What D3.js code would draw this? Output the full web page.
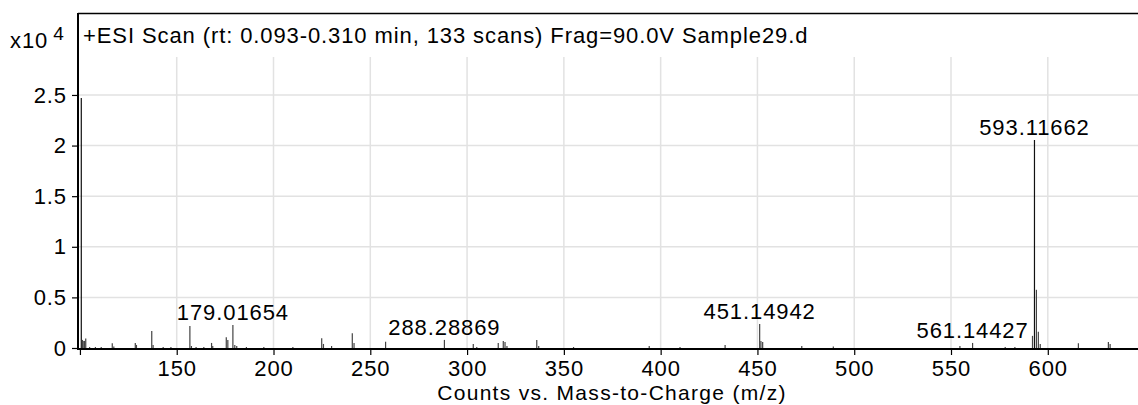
<!DOCTYPE html>
<html>
<head>
<meta charset="utf-8">
<script src="https://cdn.jsdelivr.net/npm/d3@7"></script>
<style>
  html, body { margin: 0; padding: 0; background: #fff; }
  svg { display: block; font-family: "Liberation Sans", Arial, sans-serif; }
  svg text { letter-spacing: 0.9px; }
</style>
</head>
<body>
<svg id="chart" width="1138" height="405"></svg>
<script>
// Centroid m/z of each peak and its abundance (counts x10^4)
const mzValues = [
  100.7, 101.3, 102.0, 102.4, 103.0, 105.0, 108.0, 111.0, 116.7, 117.5,
  128.6, 129.2, 137.1, 137.8, 143.0, 147.0, 156.8, 157.6, 160.0, 164.0,
  168.0, 168.6, 175.6, 176.4, 179.01654, 180.0, 181.0, 186.0, 195.0, 210.0,
  224.9, 225.8, 230.0, 240.7, 241.6, 257.9, 288.28869, 303.2, 305.0, 316.1,
  318.7, 319.6, 320.6, 336.0, 337.0, 355.0, 394.1, 410.0, 433.3, 451.14942,
  451.8, 452.7, 472.9, 489.2, 554.6, 561.14427, 578.0, 583.0, 592.1, 593.11662,
  594.12, 595.12, 596.1, 615.8, 631.3, 632.2
];
const abundance = [
  2.47, 0.08, 0.07, 0.07, 0.095, 0.01, 0.01, 0.01, 0.046, 0.015,
  0.05, 0.03, 0.168, 0.03, 0.01, 0.01, 0.217, 0.02, 0.01, 0.01,
  0.05, 0.02, 0.105, 0.08, 0.227, 0.03, 0.02, 0.01, 0.01, 0.01,
  0.096, 0.04, 0.02, 0.145, 0.05, 0.062, 0.08, 0.04, 0.01, 0.05,
  0.07, 0.06, 0.02, 0.08, 0.02, 0.01, 0.02, 0.01, 0.03, 0.237,
  0.07, 0.06, 0.02, 0.015, 0.02, 0.05, 0.01, 0.01, 0.12, 2.055,
  0.575, 0.16, 0.04, 0.046, 0.06, 0.04
];
// Peaks annotated with their m/z
const labeledPeaks = [179.01654, 288.28869, 451.14942, 561.14427, 593.11662];

const xTicks = [100, 150, 200, 250, 300, 350, 400, 450, 500, 550, 600];
const xTickLabels = ["", "150", "200", "250", "300", "350", "400", "450", "500", "550", "600"];
const yTicks = [0, 0.5, 1, 1.5, 2, 2.5];
const yTickLabels = ["0", "0.5", "1", "1.5", "2", "2.5"];

const titleText = "+ESI Scan (rt: 0.093-0.310 min, 133 scans) Frag=90.0V Sample29.d";
const xAxisTitle = "Counts vs. Mass-to-Charge (m/z)";

const peaks = mzValues.map((mz, i) => ({ mz, v: abundance[i] }));

const svg = d3.select("#chart");
const left = 78, right = 1138, frameTop = 13, plotTop = 57, base = 348;
const FONT = "Liberation Sans, Arial, sans-serif";

const x = d3.scaleLinear().domain([99, 646.6]).range([left, right]);
const y = d3.scaleLinear().domain([0, 2.875]).range([base, plotTop]);

// grid
const grid = svg.append("g").attr("stroke", "#e2e2e2").attr("stroke-width", 1.5);
grid.selectAll("line.h").data(yTicks.filter(d => d > 0)).join("line")
  .attr("x1", left).attr("x2", right)
  .attr("y1", d => y(d)).attr("y2", d => y(d));
grid.selectAll("line.v").data(xTicks.slice(1)).join("line")
  .attr("x1", d => x(d)).attr("x2", d => x(d))
  .attr("y1", plotTop).attr("y2", base);

// peaks
svg.append("g").selectAll("line").data(peaks).join("line")
  .attr("x1", d => x(d.mz)).attr("x2", d => x(d.mz))
  .attr("y1", base).attr("y2", d => y(d.v))
  .attr("stroke", d => d.v > 1 ? "#111" : "#444")
  .attr("stroke-width", 1.2);

// frame: top border
svg.append("line").attr("x1", left).attr("x2", right)
  .attr("y1", frameTop + 0.5).attr("y2", frameTop + 0.5)
  .attr("stroke", "#000").attr("stroke-width", 1.5);

// x axis
const xAxis = d3.axisBottom(x).tickValues(xTicks)
  .tickFormat((d, i) => xTickLabels[i]).tickSize(6).tickPadding(5);
const gx = svg.append("g").attr("transform", `translate(0,${base + 1})`).call(xAxis);
gx.select(".domain").remove();
gx.append("line").attr("x1", left).attr("x2", right).attr("y1", 0).attr("y2", 0)
  .attr("stroke", "#000").attr("stroke-width", 2);
gx.selectAll(".tick line").attr("stroke", "#000").attr("stroke-width", 1.2);
gx.selectAll(".tick text").attr("font-size", 22).attr("fill", "#000")
  .attr("font-family", FONT);

// y axis
const yAxis = d3.axisLeft(y).tickValues(yTicks)
  .tickFormat((d, i) => yTickLabels[i]).tickSize(6).tickPadding(5);
const gy = svg.append("g").attr("transform", `translate(${left},0)`).call(yAxis);
gy.select(".domain").remove();
gy.append("line").attr("x1", 0).attr("x2", 0).attr("y1", frameTop).attr("y2", base + 2)
  .attr("stroke", "#000").attr("stroke-width", 2);
gy.selectAll(".tick line").attr("stroke", "#000").attr("stroke-width", 1.2);
gy.selectAll(".tick text").attr("font-size", 22).attr("fill", "#000")
  .attr("font-family", FONT);

// exponent label
const ex = svg.append("text").attr("x", 10).attr("y", 48).attr("font-size", 22).attr("fill", "#000");
ex.append("tspan").text("x10");
ex.append("tspan").attr("dx", 5).attr("dy", -8).attr("font-size", 19).text("4");

// title inside the frame
svg.append("text").attr("x", 83).attr("y", 43).attr("font-size", 22).attr("fill", "#000")
  .text(titleText);

// peak annotations
const peakLabels = labeledPeaks.map(mz => peaks.find(p => p.mz === mz));
svg.append("g").selectAll("text").data(peakLabels).join("text")
  .attr("x", d => x(d.mz)).attr("y", d => y(d.v) - 5)
  .attr("text-anchor", "middle").attr("font-size", 22).attr("fill", "#000")
  .text(d => d.mz.toFixed(5));

// x axis title
svg.append("text").attr("x", 612).attr("y", 400).attr("text-anchor", "middle")
  .attr("font-size", 21).attr("fill", "#000").style("letter-spacing", "1.3px")
  .text(xAxisTitle);
</script>
</body>
</html>
